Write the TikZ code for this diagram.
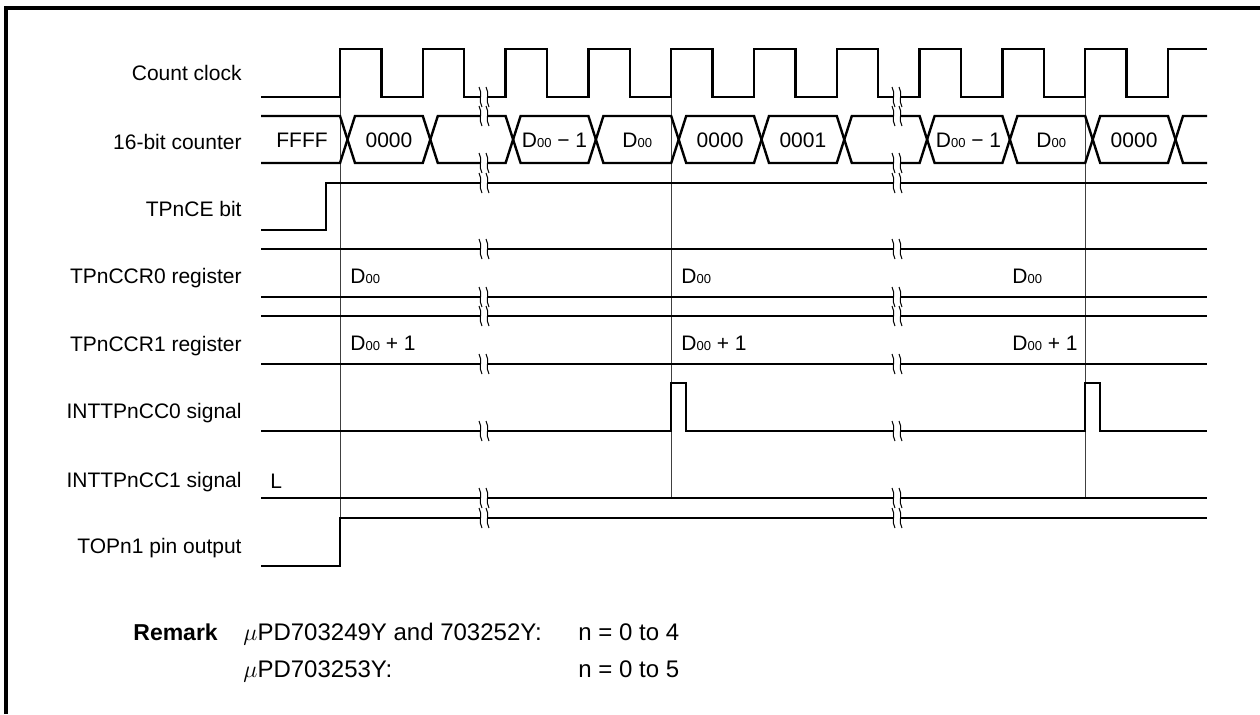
\documentclass[tikz,border=0pt]{standalone}
\usepackage{fontspec}
\setmainfont{Liberation Sans}
\newcommand{\Dzz}{D{\fontsize{6.5}{8}\selectfont 00}}
\tikzset{
  frame/.style={line width=1.75pt},
  sig/.style={line width=1.2pt, line join=miter},
  guide/.style={line width=0.5pt, black!75},
  brk/.style={line width=0.5pt},
  lbl/.style={anchor=base east, inner sep=0pt, font=\fontsize{10.5}{12}\selectfont},
  val/.style={anchor=base, inner sep=0pt, font=\fontsize{10.5}{12}\selectfont},
  rtxt/.style={anchor=base west, inner sep=0pt, font=\fontsize{12}{14}\selectfont},
}
\begin{document}
\begin{tikzpicture}[x=0.5pt, y=-0.5pt]
\useasboundingbox (0,0) rectangle (1260,714);
\draw[frame] (6,714) -- (6,8) -- (1260,8);
% row labels
\node[lbl] (lclk) at (242,80) {Count clock};
\node[lbl] (lcnt) at (242,149) {16-bit counter};
\node[lbl] (lce) at (242,216) {TPnCE bit};
\node[lbl] (lccr0) at (242,283) {TPnCCR0 register};
\node[lbl] (lccr1) at (242,351) {TPnCCR1 register};
\node[lbl] (lint0) at (242,418) {INTTPnCC0 signal};
\node[lbl] (lint1) at (242,487) {INTTPnCC1 signal};
\node[lbl] (ltop) at (242,553) {TOPn1 pin output};
% guide lines
\draw[guide] (340,97) -- (340,518);
\draw[guide] (671.2,97) -- (671.2,498);
\draw[guide] (1085.2,97) -- (1085.2,498);
% count clock
\draw[sig] (261,97) -- (340,97)
  \foreach \k in {0,...,9} { -- ({340+82.8*\k},49) -- ({381.4+82.8*\k},49) -- ({381.4+82.8*\k},97) -- ({422.8+82.8*\k},97) }
  -- (1168,49) -- (1207,49);
% 16-bit counter
\draw[sig] (261,116) -- (340,116) -- (347.5,139.5) -- (340,163) -- (261,163);
\foreach \k in {0,...,9} {
  \pgfmathsetmacro{\r}{340+82.8*\k}
  \pgfmathsetmacro{\e}{\r+82.8}
  \draw[sig] (\r+7.5,139.5) -- (\r+15,116) -- (\e,116) -- (\e+7.5,139.5) -- (\e,163) -- (\r+15,163) -- cycle;
}
\draw[sig] (1207,116) -- (1183,116) -- (1175.5,139.5) -- (1183,163) -- (1207,163);
\foreach \c/\t/\n in {302/FFFF/v0, 389/0000/v1, 554.5/{\Dzz{} − 1}/v2, 637.3/\Dzz/v3, 720.1/0000/v4,
    802.9/0001/v5, 968.5/{\Dzz{} − 1}/v6, 1051.3/\Dzz/v7, 1134.1/0000/v8}
  \node[val] (\n) at (\c,147) {\t};
% TPnCE bit
\draw[sig] (261,230) -- (326,230) -- (326,183) -- (1207,183);
% TPnCCR0 / TPnCCR1
\draw[sig] (261,249) -- (1207,249) (261,297) -- (1207,297);
\draw[sig] (261,316) -- (1207,316) (261,364) -- (1207,364);
\foreach \x/\n in {350/a, 681/b, 1012/c} {
  \node[val, anchor=base west] (r0\n) at (\x,283) {\Dzz};
  \node[val, anchor=base west] (r1\n) at (\x,350) {\Dzz{} + 1};
}
% INTTPnCC0
\draw[sig] (261,431) -- (671.2,431) -- (671.2,383) -- (686,383) -- (686,431)
  -- (1085.2,431) -- (1085.2,383) -- (1100,383) -- (1100,431) -- (1207,431);
% INTTPnCC1
\draw[sig] (261,498) -- (1207,498);
\node[val, anchor=base west] (lvl) at (270,488) {L};
% TOPn1
\draw[sig] (261,566) -- (340,566) -- (340,518) -- (1207,518);
% break marks
\foreach \x in {484,897} {
  \foreach \y in {97,116,163,183,249,297,316,364,431,498,518} {
    \fill[white] (\x-4,\y-2.5) rectangle (\x+4,\y+2.5);
    \draw[brk] (\x-5,\y-10) .. controls (\x-1,\y-4) and (\x-6,\y+4) .. (\x-2,\y+10)
               (\x+2,\y-10) .. controls (\x+6,\y-4) and (\x+1,\y+4) .. (\x+5,\y+10);
  }
}
% remark
\node[rtxt, font=\fontsize{11.5}{13}\selectfont\bfseries] (rmk) at (133,640) {Remark};
\node[rtxt] (rm1) at (243,640) {$\mu$PD703249Y and 703252Y:};
\node[rtxt] (rn1) at (578,640) {n = 0 to 4};
\node[rtxt] (rm2) at (243,677) {$\mu$PD703253Y:};
\node[rtxt] (rn2) at (578,677) {n = 0 to 5};
\end{tikzpicture}
\end{document}
